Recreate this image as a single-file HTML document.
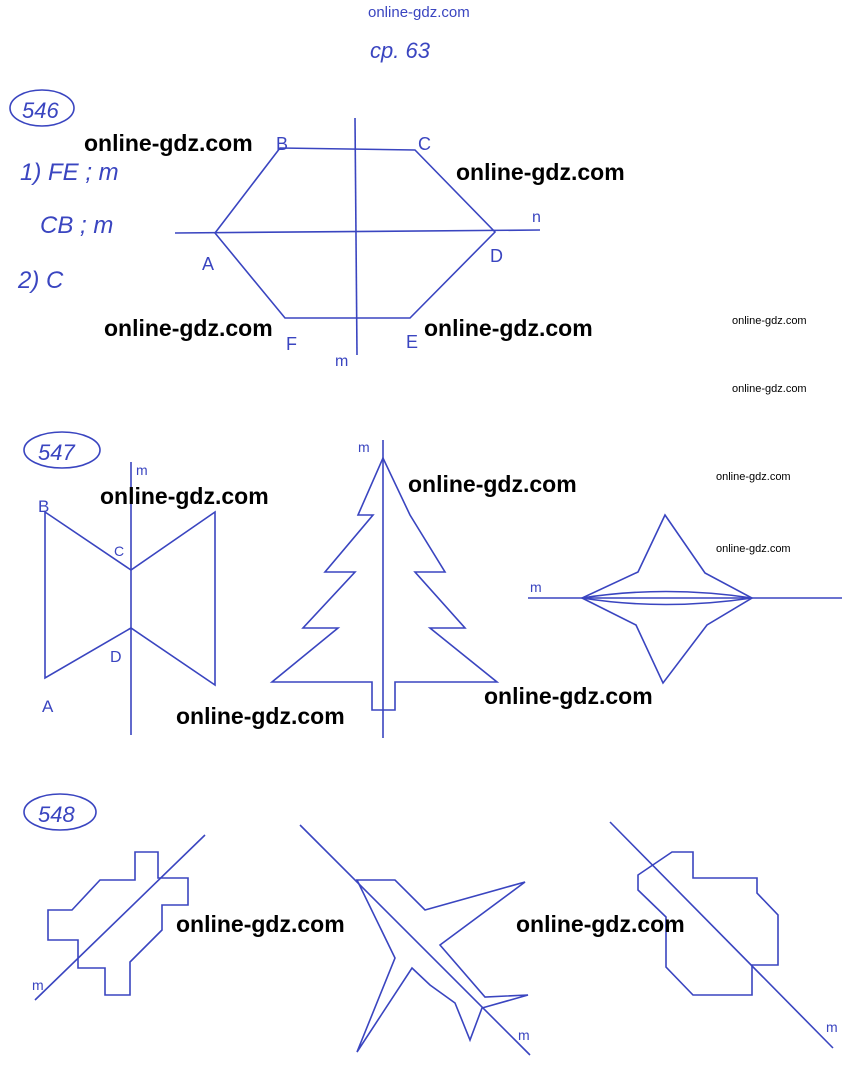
<!DOCTYPE html>
<html><head><meta charset="utf-8"><style>
html,body{margin:0;padding:0;background:#fff}
body{width:857px;height:1082px;position:relative;overflow:hidden;font-family:"Liberation Sans",sans-serif}
.w{position:absolute;font-size:23px;font-weight:bold;color:#000;white-space:nowrap;line-height:1}
.s{position:absolute;font-size:11px;color:#000;white-space:nowrap;line-height:1}
svg{position:absolute;left:0;top:0}
</style></head><body>
<svg width="857" height="1082" viewBox="0 0 857 1082" fill="none" stroke="#3a45c0" stroke-width="1.6" font-family="Liberation Sans, sans-serif">
<text x="368" y="17" font-size="15" fill="#3a45c0" stroke="none">online-gdz.com</text>
<text x="370" y="58" font-size="22" fill="#3a45c0" stroke="none" font-style="italic">ср. 63</text>
<ellipse cx="42" cy="108" rx="32" ry="18"/>
<text x="22" y="118" font-size="22" fill="#3a45c0" stroke="none" font-style="italic">546</text>
<text x="20" y="180" font-size="24" fill="#3a45c0" stroke="none" font-style="italic">1) FE ; m</text>
<text x="40" y="233" font-size="24" fill="#3a45c0" stroke="none" font-style="italic">CB ; m</text>
<text x="18" y="288" font-size="24" fill="#3a45c0" stroke="none" font-style="italic">2) C</text>
<line x1="355" y1="118" x2="357" y2="355"/>
<line x1="175" y1="233" x2="540" y2="230"/>
<polygon points="280,148 415,150 495,232 410,318 285,318 215,233"/>
<text x="276" y="150" font-size="18" fill="#3a45c0" stroke="none">B</text>
<text x="418" y="150" font-size="18" fill="#3a45c0" stroke="none">C</text>
<text x="532" y="222" font-size="16" fill="#3a45c0" stroke="none">n</text>
<text x="490" y="262" font-size="18" fill="#3a45c0" stroke="none">D</text>
<text x="202" y="270" font-size="18" fill="#3a45c0" stroke="none">A</text>
<text x="286" y="350" font-size="18" fill="#3a45c0" stroke="none">F</text>
<text x="406" y="348" font-size="18" fill="#3a45c0" stroke="none">E</text>
<text x="335" y="366" font-size="16" fill="#3a45c0" stroke="none">m</text>
<ellipse cx="62" cy="450" rx="38" ry="18"/>
<text x="38" y="460" font-size="22" fill="#3a45c0" stroke="none" font-style="italic">547</text>
<line x1="131" y1="462" x2="131" y2="735"/>
<text x="136" y="475" font-size="14" fill="#3a45c0" stroke="none">m</text>
<polygon points="45,512 131,570 215,512 215,685 131,628 45,678"/>
<text x="38" y="512" font-size="17" fill="#3a45c0" stroke="none">B</text>
<text x="42" y="712" font-size="17" fill="#3a45c0" stroke="none">A</text>
<text x="114" y="556" font-size="14" fill="#3a45c0" stroke="none">C</text>
<text x="110" y="662" font-size="16" fill="#3a45c0" stroke="none">D</text>
<line x1="383" y1="440" x2="383" y2="738"/>
<text x="358" y="452" font-size="14" fill="#3a45c0" stroke="none">m</text>
<polygon points="383,458 358,515 373,515 325,572 355,572 303,628 338,628 272,682 372,682 372,710 395,710 395,682 497,682 430,628 465,628 415,572 445,572 410,515"/>
<line x1="528" y1="598" x2="842" y2="598"/>
<text x="530" y="592" font-size="14" fill="#3a45c0" stroke="none">m</text>
<polygon points="665,515 705,573 752,598 707,625 663,683 636,625 582,598 638,572"/>
<path d="M582,598 Q665,585 752,598 Q665,611 582,598"/>
<ellipse cx="60" cy="812" rx="36" ry="18"/>
<text x="38" y="822" font-size="22" fill="#3a45c0" stroke="none" font-style="italic">548</text>
<line x1="35" y1="1000" x2="205" y2="835"/>
<text x="32" y="990" font-size="14" fill="#3a45c0" stroke="none">m</text>
<polygon points="100,880 135,880 135,852 158,852 158,878 188,878 188,905 162,905 162,930 130,962 130,995 105,995 105,968 78,968 78,940 48,940 48,910 72,910"/>
<line x1="300" y1="825" x2="530" y2="1055"/>
<text x="518" y="1040" font-size="14" fill="#3a45c0" stroke="none">m</text>
<polygon points="357,880 395,880 425,910 525,882 440,945 485,997 528,995 482,1008 470,1040 455,1003 430,985 412,968 357,1052 395,958"/>
<line x1="610" y1="822" x2="833" y2="1048"/>
<text x="826" y="1032" font-size="14" fill="#3a45c0" stroke="none">m</text>
<polygon points="672,852 693,852 693,878 757,878 757,893 778,915 778,965 752,965 752,995 693,995 666,967 666,917 638,890 638,875"/>
</svg>
<div class="w" style="left:84px;top:132px">online-gdz.com</div>
<div class="w" style="left:456px;top:161px">online-gdz.com</div>
<div class="w" style="left:104px;top:317px">online-gdz.com</div>
<div class="w" style="left:424px;top:317px">online-gdz.com</div>
<div class="w" style="left:100px;top:485px">online-gdz.com</div>
<div class="w" style="left:408px;top:473px">online-gdz.com</div>
<div class="w" style="left:176px;top:705px">online-gdz.com</div>
<div class="w" style="left:484px;top:685px">online-gdz.com</div>
<div class="w" style="left:176px;top:913px">online-gdz.com</div>
<div class="w" style="left:516px;top:913px">online-gdz.com</div>
<div class="s" style="left:732px;top:316px">online-gdz.com</div>
<div class="s" style="left:732px;top:384px">online-gdz.com</div>
<div class="s" style="left:716px;top:472px">online-gdz.com</div>
<div class="s" style="left:716px;top:544px">online-gdz.com</div>
</body></html>
